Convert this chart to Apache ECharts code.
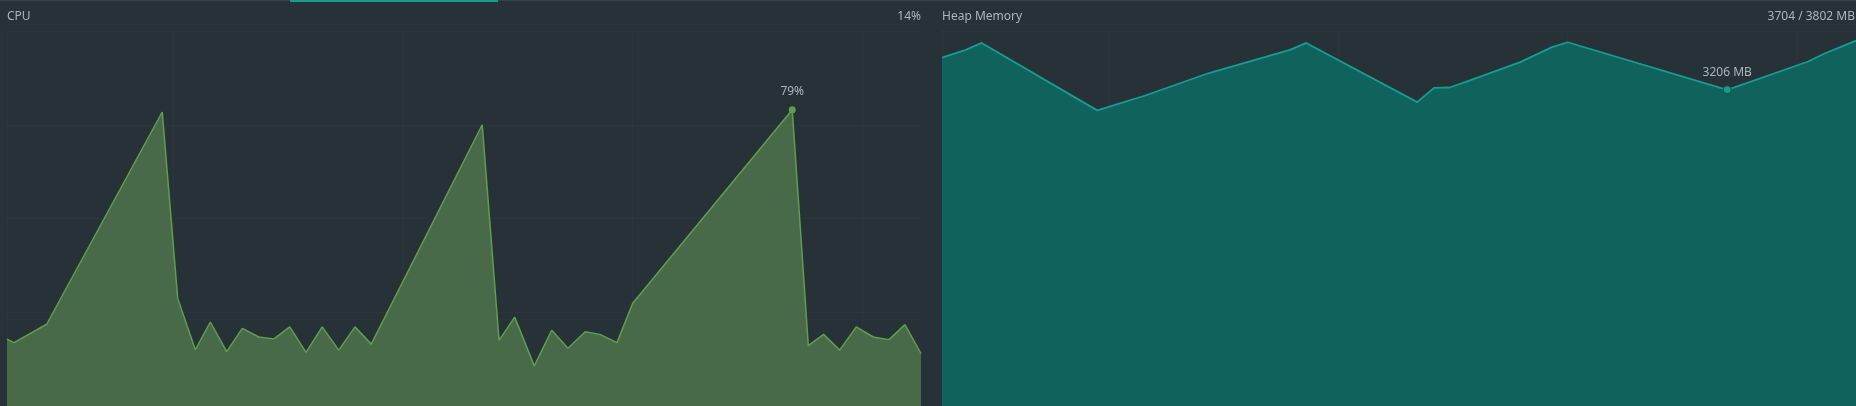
<!DOCTYPE html>
<html>
<head>
<meta charset="utf-8">
<title>CPU / Heap Memory</title>
<script src="https://cdn.jsdelivr.net/npm/echarts@6/dist/echarts.min.js"></script>
<style>
  html, body { margin: 0; padding: 0; background: #263238; overflow: hidden; }
  #chart { width: 1856px; height: 406px; }
</style>
</head>
<body>
<div id="chart"></div>
<script>
// time window in seconds, same clock for both panels
var windowStart = 4.15;
var windowEnd = 63.85;
var gridTimes = [15, 30, 45, 60];

// CPU usage samples (%)
var cpuTimes = [4.15, 4.61, 6.74, 14.29, 15.30, 16.45, 17.43, 18.50, 19.52, 20.59, 21.59, 22.62,
  23.68, 24.74, 25.82, 26.88, 27.94, 35.19, 36.29, 37.31, 38.59, 39.73, 40.79, 41.92, 42.88, 43.99,
  45.02, 55.44, 56.49, 57.49, 58.54, 59.62, 60.73, 61.76, 62.80, 63.85];
var cpuValues = [17.8, 16.9, 21.8, 78.4, 28.7, 15.0, 22.4, 14.5, 20.7, 18.4, 17.9, 21.1,
  14.3, 21.1, 14.9, 21.1, 16.5, 75.0, 17.5, 23.7, 10.7, 20.2, 15.4, 19.8, 19.1, 16.9,
  27.4, 79, 16.1, 19.1, 14.9, 21.1, 18.4, 17.7, 21.7, 14];

// heap samples (MB)
var heapTimes = [4.15, 5.70, 6.74, 14.29, 17.43, 21.59, 26.88, 27.94, 35.19, 36.29, 37.31,
  38.59, 41.92, 43.99, 45.02, 55.44, 60.73, 61.76, 63.85];
var heapValues = [3533, 3611, 3681, 2997, 3148, 3376, 3611, 3681, 3081, 3226, 3229,
  3299, 3487, 3638, 3688, 3206, 3493, 3571, 3704];
var heapTotal = 3802;
var heapMarkIndex = 15;

var textColor = '#a9b6bf';
var gridColor = 'rgba(255,255,255,0.025)';
var cpuLine = '#5f9f4b';
var heapLine = '#159e8f';

function pairs(xs, ys) {
  return xs.map(function (t, i) { return [t, ys[i]]; });
}

var cpuMax = cpuValues.indexOf(Math.max.apply(null, cpuValues));
var cpuLast = cpuValues[cpuValues.length - 1];
var heapLast = heapValues[heapValues.length - 1];

function timeAxis(gridIndex) {
  return {
    type: 'value',
    gridIndex: gridIndex,
    min: windowStart,
    max: windowEnd,
    axisLine: { show: false },
    axisLabel: { show: false },
    axisTick: { show: false, customValues: gridTimes },
    splitLine: { show: true, lineStyle: { color: gridColor, width: 1 } }
  };
}

function valueAxis(gridIndex, max, interval) {
  return {
    type: 'value',
    gridIndex: gridIndex,
    min: 0,
    max: max,
    interval: interval,
    axisLabel: { show: false },
    axisTick: { show: false },
    axisLine: { show: true, lineStyle: { color: gridColor } },
    splitLine: { show: true, lineStyle: { color: gridColor, width: 1 } }
  };
}

var chart = echarts.init(document.getElementById('chart'), null, { renderer: 'canvas' });

var option = {
  backgroundColor: '#263238',
  animation: false,
  textStyle: { fontFamily: 'Noto Sans' },
  title: [
    { text: 'CPU', left: 7, top: 11, padding: 0,
      textStyle: { color: textColor, fontSize: 12, fontWeight: 'normal' } },
    { text: cpuLast + '%', right: 935, top: 11, padding: 0,
      textStyle: { color: textColor, fontSize: 12, fontWeight: 'normal' } },
    { text: 'Heap Memory', left: 942, top: 11, padding: 0,
      textStyle: { color: textColor, fontSize: 12, fontWeight: 'normal' } },
    { text: heapLast + ' / ' + heapTotal + ' MB', right: 1, top: 11, padding: 0,
      textStyle: { color: textColor, fontSize: 12, fontWeight: 'normal' } }
  ],
  graphic: [
    { type: 'rect', left: 0, top: 0, shape: { width: 1856, height: 1 }, style: { fill: '#34444c' } },
    { type: 'rect', left: 290, top: 0, shape: { width: 208, height: 2 }, style: { fill: '#13a08b' } }
  ],
  grid: [
    { left: 7, top: 31, width: 914, height: 378 },
    { left: 942, top: 31, width: 914, height: 378 }
  ],
  xAxis: [timeAxis(0), timeAxis(1)],
  yAxis: [valueAxis(0, 100, 25), valueAxis(1, heapTotal, 1000)],
  series: [
    {
      name: 'CPU',
      type: 'line',
      xAxisIndex: 0,
      yAxisIndex: 0,
      data: pairs(cpuTimes, cpuValues),
      showSymbol: false,
      lineStyle: { color: cpuLine, width: 1.5 },
      itemStyle: { color: cpuLine },
      areaStyle: { color: 'rgba(94,140,84,0.62)', opacity: 1 },
      markPoint: {
        symbol: 'circle',
        symbolSize: 7,
        itemStyle: { color: cpuLine },
        label: { show: true, position: 'top', distance: 9, color: textColor, fontSize: 12,
          formatter: '{c}%' },
        data: [{ coord: [cpuTimes[cpuMax], cpuValues[cpuMax]], value: cpuValues[cpuMax] }]
      }
    },
    {
      name: 'Heap Memory',
      type: 'line',
      xAxisIndex: 1,
      yAxisIndex: 1,
      data: pairs(heapTimes, heapValues),
      showSymbol: false,
      lineStyle: { color: heapLine, width: 1.8 },
      itemStyle: { color: heapLine },
      areaStyle: { color: 'rgba(10,112,104,0.78)', opacity: 1 },
      markPoint: {
        symbol: 'circle',
        symbolSize: 8,
        itemStyle: { color: heapLine, borderColor: '#1d4a48', borderWidth: 1 },
        label: { show: true, position: 'top', distance: 7, color: textColor, fontSize: 12,
          formatter: '{c} MB' },
        data: [{ coord: [heapTimes[heapMarkIndex], heapValues[heapMarkIndex]],
          value: heapValues[heapMarkIndex] }]
      }
    }
  ]
};

chart.setOption(option);
</script>
</body>
</html>
